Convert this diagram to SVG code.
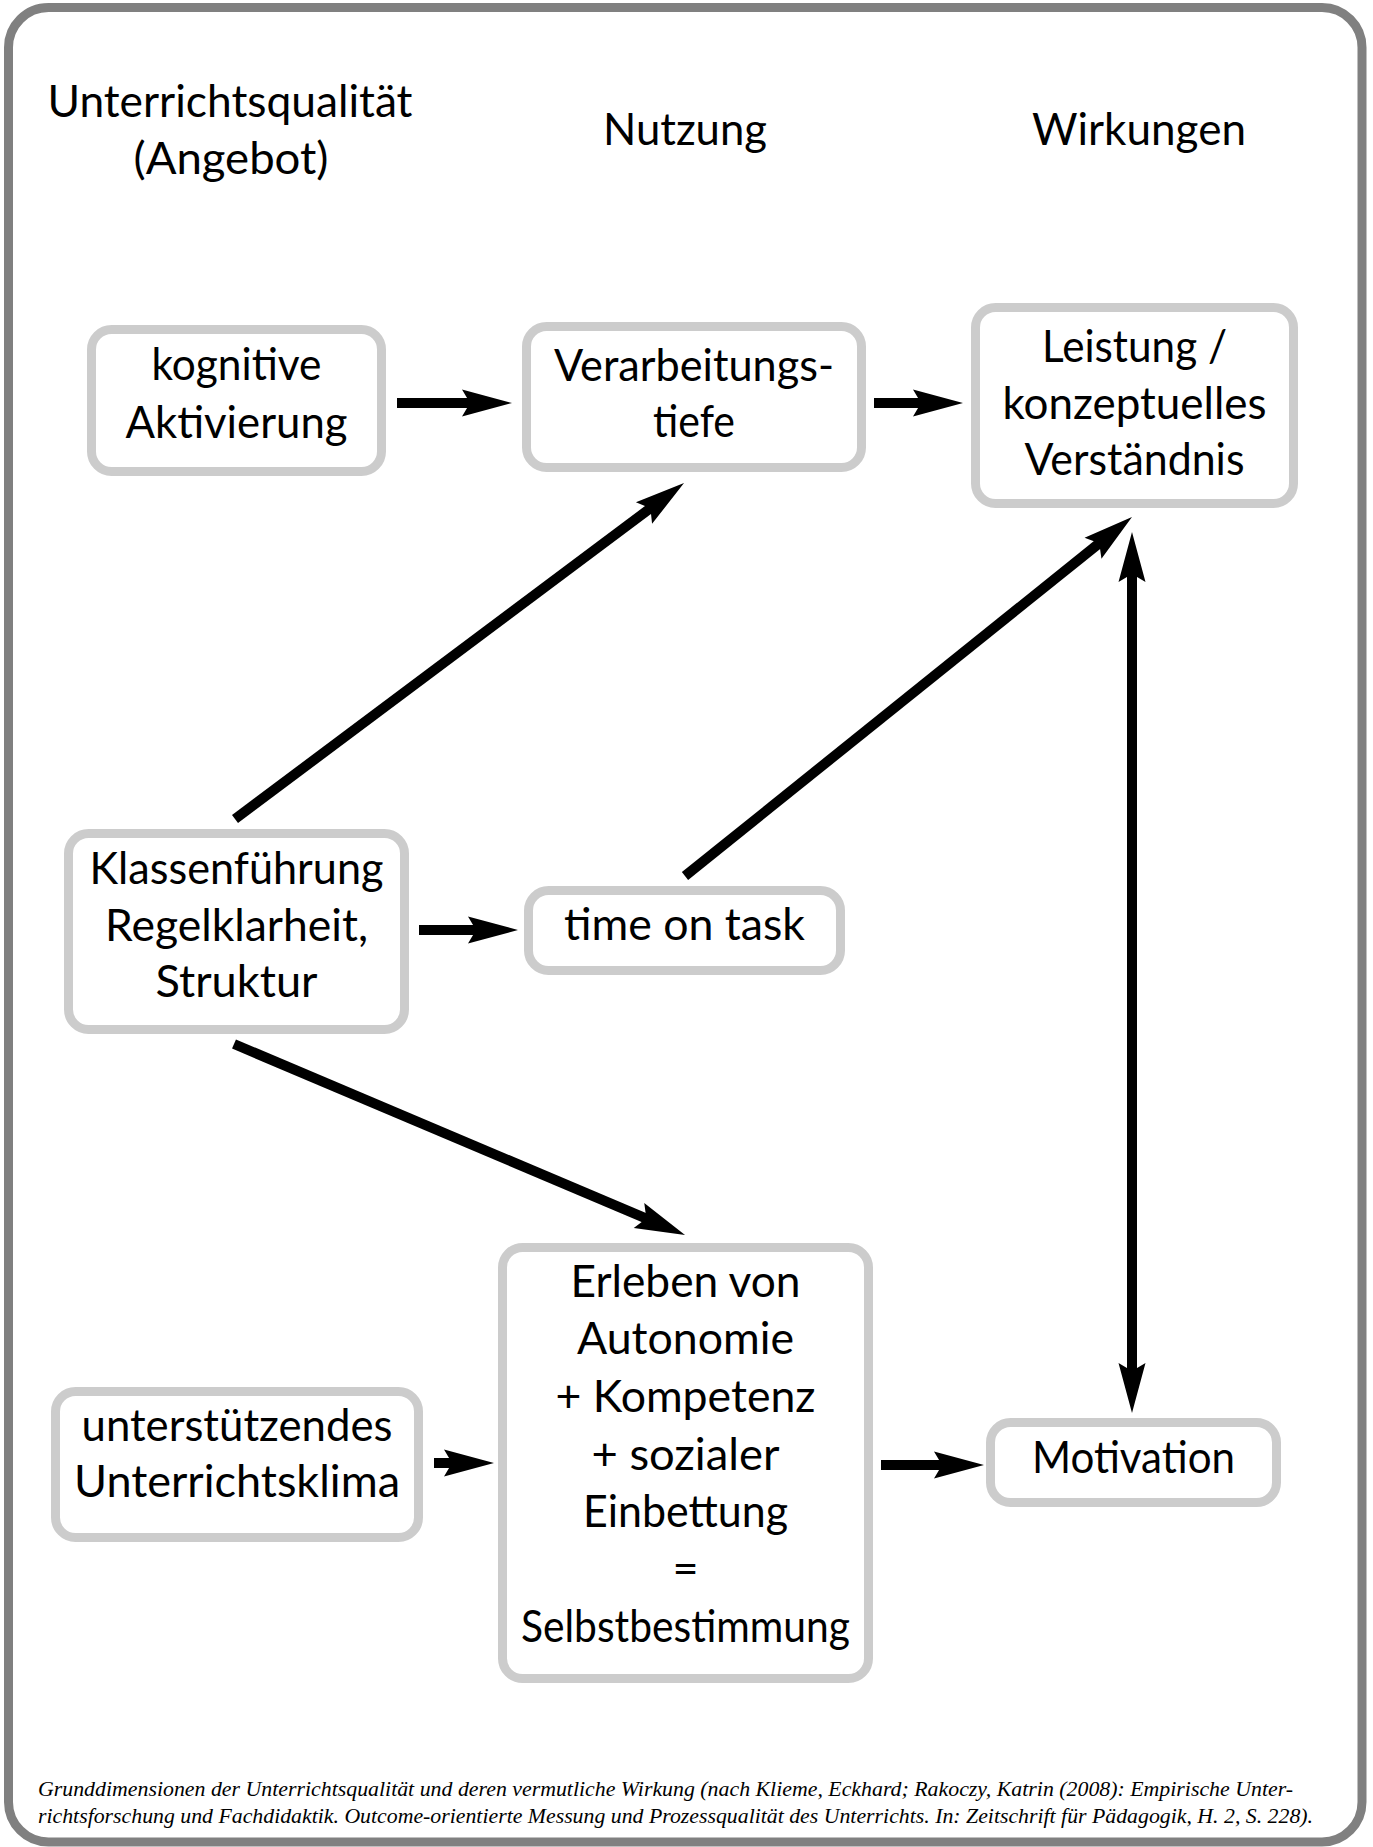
<svg xmlns="http://www.w3.org/2000/svg" width="1373" height="1847" viewBox="0 0 1373 1847">
<style>
.frame{fill:#ffffff;stroke:#808080;stroke-width:9}
.box{fill:#ffffff;stroke:#cccccc;stroke-width:9}
.t{font-family:Lato,"Open Sans","Liberation Sans",sans-serif;font-size:45px;fill:#000000;text-anchor:middle}
.cap{font-family:"Liberation Serif","Times New Roman",serif;font-style:italic;font-size:21px;fill:#000000}
.arr{stroke:#000000;stroke-width:10;fill:none;stroke-linecap:butt;marker-end:url(#ah)}
</style>
<defs>
<marker id="ah" markerUnits="userSpaceOnUse" orient="auto-start-reverse" refX="0" refY="0" markerWidth="60" markerHeight="30" overflow="visible">
<path d="M40,0 L-10,-13.5 L-2,0 L-10,13.5 Z" fill="#000000"/>
</marker>
</defs>
<rect class="frame" x="8.5" y="7.5" width="1353.5" height="1834.5" rx="40" ry="40"/>
<g id="headers">
<text class="t" x="230" y="117" textLength="365" lengthAdjust="spacingAndGlyphs">Unterrichtsqualität</text>
<text class="t" x="231" y="174" textLength="195" lengthAdjust="spacingAndGlyphs">(Angebot)</text>
<text class="t" x="685" y="145" textLength="164" lengthAdjust="spacingAndGlyphs">Nutzung</text>
<text class="t" x="1139" y="145" textLength="214" lengthAdjust="spacingAndGlyphs">Wirkungen</text>
</g>
<g id="connectors">
<line class="arr" x1="397" y1="403" x2="472" y2="403"/>
<line class="arr" x1="874" y1="403" x2="923" y2="403"/>
<line class="arr" x1="419" y1="930" x2="478" y2="930"/>
<line class="arr" x1="434" y1="1463" x2="454" y2="1463"/>
<line class="arr" x1="881" y1="1465" x2="944" y2="1465"/>
<line class="arr" x1="235" y1="819" x2="652" y2="507"/>
<line class="arr" x1="685" y1="876" x2="1100.8" y2="542"/>
<line class="arr" x1="234" y1="1044" x2="648.2" y2="1219.4"/>
<line class="arr" x1="1132" y1="572" x2="1132" y2="1373" marker-start="url(#ah)"/>
</g>
<g id="node-kognitive">
<rect class="box" x="91.5" y="329.5" width="290" height="142" rx="20"/>
<text class="t" x="236.5" y="380" textLength="170" lengthAdjust="spacingAndGlyphs">kognitive</text>
<text class="t" x="236.5" y="438" textLength="222" lengthAdjust="spacingAndGlyphs">Aktivierung</text>
</g>
<g id="node-verarbeitung">
<rect class="box" x="526.5" y="326.5" width="335" height="141" rx="20"/>
<text class="t" x="694" y="381" textLength="280" lengthAdjust="spacingAndGlyphs">Verarbeitungs-</text>
<text class="t" x="694" y="437" textLength="82" lengthAdjust="spacingAndGlyphs">tiefe</text>
</g>
<g id="node-leistung">
<rect class="box" x="975.5" y="307.5" width="318" height="196" rx="20"/>
<text class="t" x="1134.5" y="362" textLength="185" lengthAdjust="spacingAndGlyphs">Leistung /</text>
<text class="t" x="1134.5" y="419" textLength="264" lengthAdjust="spacingAndGlyphs">konzeptuelles</text>
<text class="t" x="1134.5" y="475" textLength="220" lengthAdjust="spacingAndGlyphs">Verständnis</text>
</g>
<g id="node-klassenfuehrung">
<rect class="box" x="68.5" y="833.5" width="336" height="196" rx="20"/>
<text class="t" x="236.5" y="884" textLength="294" lengthAdjust="spacingAndGlyphs">Klassenführung</text>
<text class="t" x="236.5" y="941" textLength="263" lengthAdjust="spacingAndGlyphs">Regelklarheit,</text>
<text class="t" x="236.5" y="997" textLength="162" lengthAdjust="spacingAndGlyphs">Struktur</text>
</g>
<g id="node-timeontask">
<rect class="box" x="528.5" y="890.5" width="312" height="80" rx="20"/>
<text class="t" x="684.5" y="940" textLength="241" lengthAdjust="spacingAndGlyphs">time on task</text>
</g>
<g id="node-klima">
<rect class="box" x="55.5" y="1391.5" width="363" height="146" rx="20"/>
<text class="t" x="237" y="1441" textLength="311" lengthAdjust="spacingAndGlyphs">unterstützendes</text>
<text class="t" x="237" y="1497" textLength="326" lengthAdjust="spacingAndGlyphs">Unterrichtsklima</text>
</g>
<g id="node-erleben">
<rect class="box" x="502.5" y="1247.5" width="366" height="431" rx="20"/>
<text class="t" x="685.5" y="1297" textLength="230" lengthAdjust="spacingAndGlyphs">Erleben von</text>
<text class="t" x="685.5" y="1354" textLength="217" lengthAdjust="spacingAndGlyphs">Autonomie</text>
<text class="t" x="685.5" y="1412" textLength="260" lengthAdjust="spacingAndGlyphs">+ Kompetenz</text>
<text class="t" x="685.5" y="1470" textLength="188" lengthAdjust="spacingAndGlyphs">+ sozialer</text>
<text class="t" x="685.5" y="1527" textLength="205" lengthAdjust="spacingAndGlyphs">Einbettung</text>
<text class="t" x="685.5" y="1584">=</text>
<text class="t" x="685.5" y="1642" textLength="329" lengthAdjust="spacingAndGlyphs">Selbstbestimmung</text>
</g>
<g id="node-motivation">
<rect class="box" x="990.5" y="1422.5" width="286" height="80" rx="20"/>
<text class="t" x="1133.5" y="1473" textLength="203" lengthAdjust="spacingAndGlyphs">Motivation</text>
</g>
<g id="caption">
<text class="cap" x="38" y="1796" textLength="1255" lengthAdjust="spacingAndGlyphs">Grunddimensionen der Unterrichtsqualität und deren vermutliche Wirkung (nach Klieme, Eckhard; Rakoczy, Katrin (2008): Empirische Unter-</text>
<text class="cap" x="38" y="1823" textLength="1275" lengthAdjust="spacingAndGlyphs">richtsforschung und Fachdidaktik. Outcome-orientierte Messung und Prozessqualität des Unterrichts. In: Zeitschrift für Pädagogik, H. 2, S. 228).</text>
</g>
</svg>
